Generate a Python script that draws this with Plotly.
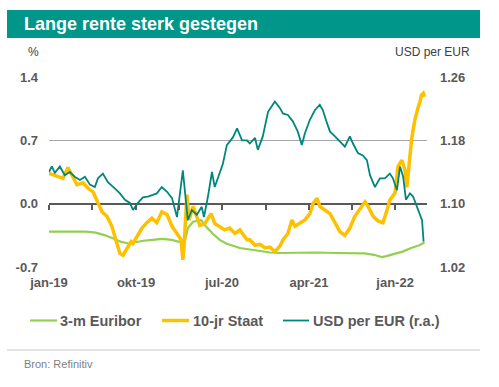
import plotly.graph_objects as go

# ---------------- data ----------------
EURIBOR_DATES = ["2019-01-01","2019-03-01","2019-05-01","2019-06-01","2019-07-01","2019-08-01","2019-08-20",
    "2019-09-15","2019-10-01","2019-11-01","2019-12-01","2020-01-01","2020-02-01","2020-03-05","2020-03-15",
    "2020-03-24","2020-04-10","2020-05-06","2020-05-21","2020-06-12","2020-07-05","2020-07-26","2020-09-08",
    "2020-10-15","2020-11-15","2020-12-15","2021-01-15","2021-03-15","2021-05-15","2021-07-15","2021-09-15",
    "2021-10-15","2021-11-15","2021-12-10","2021-12-25","2022-01-15","2022-02-15","2022-03-15","2022-04-10",
    "2022-04-27"]
EURIBOR = [-0.31,-0.31,-0.31,-0.32,-0.35,-0.39,-0.42,
    -0.44,-0.43,-0.41,-0.40,-0.39,-0.40,-0.43,-0.41,
    -0.27,-0.20,-0.18,-0.25,-0.33,-0.40,-0.44,-0.49,
    -0.51,-0.52,-0.54,-0.545,-0.54,-0.54,-0.545,-0.545,
    -0.55,-0.565,-0.59,-0.58,-0.56,-0.53,-0.49,-0.46,
    -0.43]

STAAT_DATES = ["2019-01-01","2019-01-14","2019-01-30","2019-02-15","2019-03-03","2019-03-16","2019-04-01",
    "2019-04-21","2019-05-07","2019-05-23","2019-06-05","2019-06-21","2019-07-07","2019-07-23","2019-08-08",
    "2019-08-18","2019-08-28","2019-09-10","2019-09-23","2019-09-29","2019-10-13","2019-10-28","2019-11-13",
    "2019-11-29","2019-12-15","2019-12-31","2020-01-17","2020-02-02","2020-02-18","2020-03-02","2020-03-08",
    "2020-03-12","2020-03-21","2020-03-28","2020-04-10","2020-04-22","2020-05-02","2020-05-18","2020-06-07",
    "2020-06-19","2020-07-05","2020-07-21","2020-08-06","2020-08-23","2020-09-08","2020-10-01","2020-10-10",
    "2020-10-27","2020-11-12","2020-11-28","2020-12-14","2020-12-30","2021-01-15","2021-01-25","2021-02-10",
    "2021-02-23","2021-03-05","2021-03-21","2021-04-06","2021-04-22","2021-05-02","2021-05-15","2021-05-24",
    "2021-06-09","2021-06-26","2021-07-12","2021-07-28","2021-08-13","2021-08-29","2021-09-14","2021-10-01",
    "2021-10-17","2021-10-27","2021-11-12","2021-11-28","2021-12-14","2021-12-27","2022-01-05","2022-01-22",
    "2022-01-31","2022-02-13","2022-02-23","2022-03-01","2022-03-11","2022-03-16","2022-03-21","2022-03-27",
    "2022-04-06","2022-04-12","2022-04-17","2022-04-23","2022-04-27"]
STAAT = [0.336,0.32,0.30,0.28,0.40,0.32,0.21,
    0.23,0.17,0.13,0.04,-0.09,-0.14,-0.25,-0.44,
    -0.55,-0.57,-0.49,-0.42,-0.44,-0.36,-0.27,-0.21,
    -0.16,-0.21,-0.09,-0.12,-0.25,-0.33,-0.40,-0.62,
    -0.47,0.10,-0.18,-0.03,-0.14,-0.24,-0.22,-0.11,
    -0.22,-0.25,-0.29,-0.27,-0.33,-0.29,-0.40,-0.40,
    -0.46,-0.45,-0.49,-0.48,-0.53,-0.47,-0.40,-0.33,
    -0.18,-0.25,-0.21,-0.18,-0.11,0.00,0.06,-0.03,
    -0.07,-0.11,-0.21,-0.31,-0.35,-0.27,-0.14,-0.05,
    0.02,-0.03,-0.14,-0.19,-0.21,-0.07,0.04,0.12,
    0.41,0.48,0.37,0.18,0.56,0.70,0.81,0.93,
    1.06,1.12,1.20,1.22,1.18]

USD_DATES = ["2019-01-01","2019-01-10","2019-01-20","2019-02-05","2019-02-21","2019-03-09","2019-03-25",
    "2019-04-11","2019-04-27","2019-05-13","2019-05-29","2019-06-08","2019-06-24","2019-07-10","2019-08-02",
    "2019-08-18","2019-09-03","2019-09-19","2019-09-29","2019-10-15","2019-10-31","2019-11-16","2019-12-02",
    "2019-12-15","2019-12-31","2020-01-17","2020-02-02","2020-02-11","2020-02-18","2020-03-08","2020-03-14",
    "2020-03-24","2020-04-06","2020-04-22","2020-05-08","2020-05-15","2020-05-28","2020-06-10","2020-06-19",
    "2020-07-05","2020-07-15","2020-07-28","2020-08-17","2020-08-30","2020-09-15","2020-10-01","2020-10-10",
    "2020-10-27","2020-11-05","2020-11-21","2020-12-08","2020-12-30","2021-01-15","2021-01-25","2021-02-10",
    "2021-02-26","2021-03-14","2021-03-27","2021-04-06","2021-04-22","2021-05-08","2021-05-24","2021-06-03",
    "2021-06-16","2021-06-26","2021-07-12","2021-07-28","2021-08-13","2021-08-29","2021-09-08","2021-09-24",
    "2021-10-10","2021-10-23","2021-11-02","2021-11-18","2021-12-04","2021-12-20","2022-01-05","2022-01-15",
    "2022-01-28","2022-02-07","2022-02-17","2022-02-26","2022-03-11","2022-03-21","2022-04-03","2022-04-12",
    "2022-04-19","2022-04-24"]
USD = [1.140,1.147,1.139,1.147,1.136,1.140,1.134,
    1.130,1.134,1.124,1.121,1.132,1.138,1.127,1.119,
    1.113,1.105,1.101,1.092,1.101,1.108,1.109,1.111,
    1.113,1.121,1.115,1.107,1.092,1.083,1.142,1.115,
    1.079,1.092,1.086,1.096,1.083,1.109,1.140,1.121,
    1.140,1.150,1.174,1.184,1.195,1.180,1.180,1.176,
    1.183,1.168,1.185,1.216,1.229,1.221,1.214,1.212,
    1.204,1.191,1.174,1.189,1.206,1.218,1.225,1.218,
    1.202,1.191,1.185,1.179,1.172,1.185,1.176,1.164,
    1.161,1.155,1.136,1.121,1.132,1.132,1.138,1.132,
    1.117,1.147,1.134,1.105,1.113,1.109,1.096,1.088,
    1.079,1.052]

X_TICK_DATES = ["2019-01-01","2019-10-09","2020-07-12","2021-04-19","2022-01-22"]
X_TICK_LABELS = ["jan-19","okt-19","jul-20","apr-21","jan-22"]
X_MARK_DATES = ["2019-01-01","2019-05-19","2019-10-09","2020-02-23","2020-07-12","2020-11-30",
                "2021-04-19","2021-09-05","2022-01-22"]
Y_LEFT_TICKS = [-0.7, 0.0, 0.7, 1.4]
Y_LEFT_LABELS = ["-0.7", "0.0", "0.7", "1.4"]
Y_RIGHT_TICKS = [1.02, 1.10, 1.18, 1.26]
Y_RIGHT_LABELS = ["1.02", "1.10", "1.18", "1.26"]
X_RANGE = ["2019-01-01", "2022-05-05"]

NAMES = ["3-m Euribor", "10-jr Staat", "USD per EUR (r.a.)"]
COLORS = ["#92D050", "#FFC000", "#00877D"]

# ---------------- layout geometry ----------------
W, H = 499, 387
PL, PR, PT, PB = 49, 427, 77, 267
FONT = "Liberation Sans, Arial, sans-serif"
GREY = "#595959"

def px(x):
    return (x - PL) / (PR - PL)

def py(y):
    return (PB - y) / (PB - PT)

fig = go.Figure()
fig.add_trace(go.Scatter(x=EURIBOR_DATES, y=EURIBOR, mode="lines", name=NAMES[0],
                         line=dict(color=COLORS[0], width=2.2), yaxis="y"))
fig.add_trace(go.Scatter(x=STAAT_DATES, y=STAAT, mode="lines", name=NAMES[1],
                         line=dict(color=COLORS[1], width=3.5), yaxis="y"))
fig.add_trace(go.Scatter(x=USD_DATES, y=USD, mode="lines", name=NAMES[2],
                         line=dict(color=COLORS[2], width=1.8), yaxis="y2"))
# helper trace so the tick-mark axis on the zero line is drawn
fig.add_trace(go.Scatter(x=[X_RANGE[0]], y=[None], mode="lines", xaxis="x2", yaxis="y",
                         showlegend=False, hoverinfo="skip"))

tickfont = dict(family=FONT, size=13, color=GREY, weight="bold")

fig.update_layout(
    width=W, height=H,
    margin=dict(l=PL, r=W - PR, t=PT, b=H - PB, pad=0),
    paper_bgcolor="white", plot_bgcolor="white",
    showlegend=False,
    font=dict(family=FONT, color=GREY),
    xaxis=dict(type="date", range=X_RANGE, tickvals=X_TICK_DATES, ticktext=X_TICK_LABELS,
               showgrid=False, zeroline=False, showline=False, ticks="",
               tickfont=tickfont, ticklabelstandoff=6),
    xaxis2=dict(type="date", range=X_RANGE, overlaying="x", anchor="free",
                position=(0 - Y_LEFT_TICKS[0]) / (Y_LEFT_TICKS[-1] - Y_LEFT_TICKS[0]),
                side="bottom", tickvals=X_MARK_DATES, showticklabels=False,
                ticks="outside", ticklen=5, tickwidth=1.5, tickcolor=GREY,
                showgrid=False, zeroline=False, showline=False),
    yaxis=dict(range=[Y_LEFT_TICKS[0], Y_LEFT_TICKS[-1]], tickvals=Y_LEFT_TICKS, ticktext=Y_LEFT_LABELS,
               showgrid=True, gridcolor="#A6A6A6", gridwidth=1,
               zeroline=True, zerolinecolor=GREY, zerolinewidth=2,
               showline=False, ticks="", tickfont=tickfont, ticklabelstandoff=10),
    yaxis2=dict(range=[Y_RIGHT_TICKS[0], Y_RIGHT_TICKS[-1]], tickvals=Y_RIGHT_TICKS,
                ticktext=Y_RIGHT_LABELS, overlaying="y", side="right",
                showgrid=False, zeroline=False, showline=False, ticks="",
                tickfont=tickfont, ticklabelstandoff=12),
)

shapes = [
    dict(type="rect", xref="paper", yref="paper", x0=px(7), x1=px(480), y0=py(38), y1=py(10),
         fillcolor="#00968A", line=dict(width=0)),
    dict(type="line", xref="paper", yref="paper", x0=px(7), x1=px(480), y0=py(350), y1=py(350),
         line=dict(color="#C8C8C8", width=1)),
]
leg_line_x = [(30, 57), (162, 189), (283, 309)]
leg_text_x = [58, 191, 311]
leg_widths = [2.2, 3.5, 1.8]
annotations = [
    dict(text="<b>Lange rente sterk gestegen</b>", x=px(22), y=py(24), xref="paper", yref="paper",
         xanchor="left", yanchor="middle", showarrow=False,
         font=dict(family=FONT, size=18, color="white")),
    dict(text="%", x=px(33), y=py(52), xref="paper", yref="paper", xanchor="center",
         yanchor="middle", showarrow=False, font=dict(family=FONT, size=12, color="#404040")),
    dict(text="USD per EUR", x=px(472), y=py(52), xref="paper", yref="paper", xanchor="right",
         yanchor="middle", showarrow=False, font=dict(family=FONT, size=12, color="#404040")),
    dict(text="Bron: Refinitiv", x=px(22), y=py(364), xref="paper", yref="paper", xanchor="left",
         yanchor="middle", showarrow=False, font=dict(family=FONT, size=11, color="#7F7F7F")),
]
for i in range(3):
    shapes.append(dict(type="line", xref="paper", yref="paper", x0=px(leg_line_x[i][0]),
                       x1=px(leg_line_x[i][1]), y0=py(320.5), y1=py(320.5),
                       line=dict(color=COLORS[i], width=leg_widths[i])))
    annotations.append(dict(text="<b>" + NAMES[i] + "</b>", x=px(leg_text_x[i]), y=py(320.5),
                            xref="paper", yref="paper", xanchor="left", yanchor="middle",
                            showarrow=False, font=dict(family=FONT, size=14.5, color=GREY)))

fig.update_layout(shapes=shapes, annotations=annotations)
fig.write_html("out.html", config={"displayModeBar": False},
               post_script="document.body.style.margin='0';document.body.style.overflow='hidden';")
